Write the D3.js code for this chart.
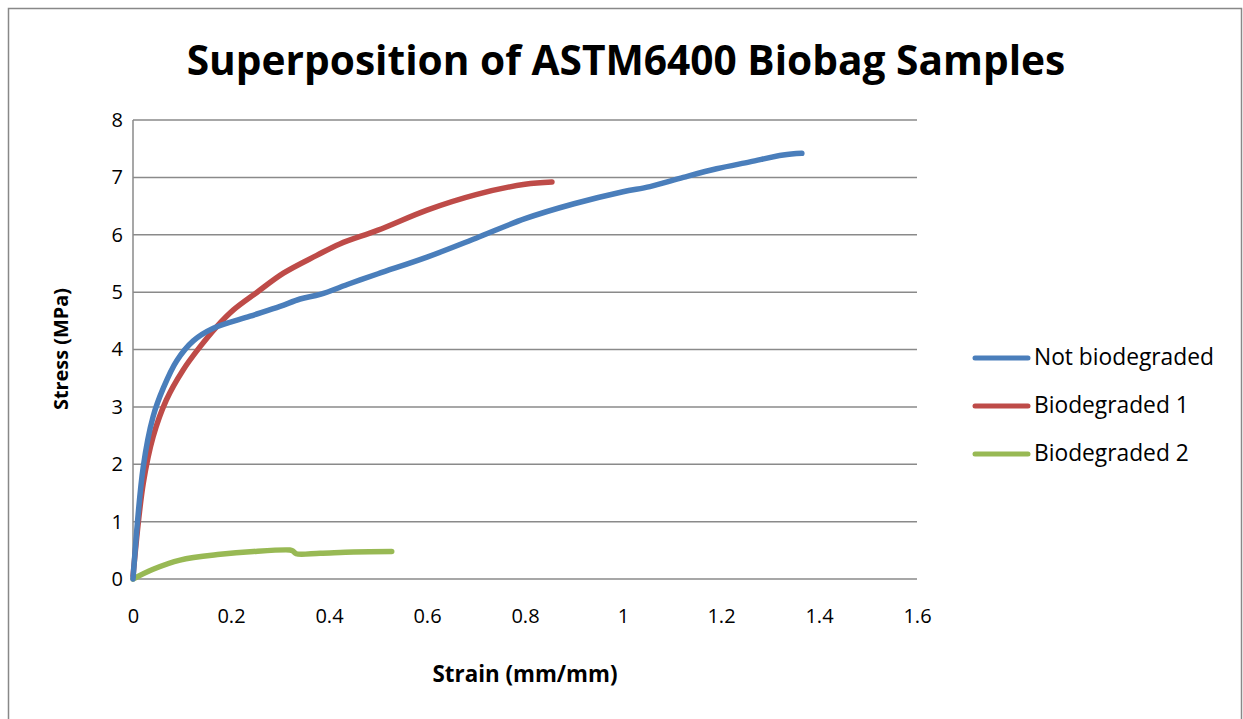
<!DOCTYPE html>
<html><head><meta charset="utf-8">
<script src="https://cdn.jsdelivr.net/npm/d3@7"></script>
<style>body{margin:0;background:#fff}svg{display:block}text{font-family:"Open Sans","Liberation Sans",sans-serif;fill:#000}</style>
</head><body><svg id="c" width="1243" height="719"></svg>
<script>
const seriesNames = ["Not biodegraded", "Biodegraded 1", "Biodegraded 2"];
const seriesColors = ["#4a7ebb", "#be4b48", "#98b954"];
const notBioX = [0, 0.021, 0.041, 0.062, 0.089, 0.123, 0.164, 0.239, 0.3, 0.341, 0.382, 0.443, 0.5, 0.6, 0.7, 0.8, 0.9, 1.0, 1.055, 1.123, 1.191, 1.259, 1.327, 1.365];
const notBioY = [0, 1.96, 2.83, 3.33, 3.8, 4.15, 4.37, 4.58, 4.75, 4.88, 4.96, 5.15, 5.32, 5.61, 5.94, 6.28, 6.54, 6.75, 6.84, 7.0, 7.15, 7.27, 7.39, 7.42];
const bio1X = [0, 0.021, 0.041, 0.068, 0.102, 0.137, 0.171, 0.205, 0.252, 0.307, 0.375, 0.422, 0.5, 0.6, 0.7, 0.8, 0.855];
const bio1Y = [0.05, 1.67, 2.48, 3.12, 3.64, 4.05, 4.4, 4.69, 4.99, 5.33, 5.64, 5.84, 6.08, 6.43, 6.7, 6.88, 6.92];
const bio2X = [0, 0.041, 0.096, 0.178, 0.246, 0.32, 0.326, 0.333, 0.382, 0.45, 0.528];
const bio2Y = [0, 0.17, 0.33, 0.43, 0.48, 0.505, 0.49, 0.44, 0.45, 0.47, 0.48];
const xTicks = [0, 0.2, 0.4, 0.6, 0.8, 1, 1.2, 1.4, 1.6];
const yTicks = [0, 1, 2, 3, 4, 5, 6, 7, 8];
const titleText = "Superposition of ASTM6400 Biobag Samples";
const xTitle = "Strain (mm/mm)";
const yTitle = "Stress (MPa)";

const svg = d3.select("#c");
const x = d3.scaleLinear().domain([0, 1.6]).range([133, 917]);
const y = d3.scaleLinear().domain([0, 8]).range([579, 120]);

function fit(t, w) {
  const cur = t.node().getComputedTextLength();
  const fs = parseFloat(t.attr("font-size"));
  t.attr("font-size", fs * w / cur);
}

svg.append("rect").attr("x", 8.5).attr("y", 8.5).attr("width", 1233).attr("height", 720)
  .attr("fill", "#fff").attr("stroke", "#888").attr("stroke-width", 1.5);

const tt = svg.append("text").attr("x", 626).attr("y", 75).attr("text-anchor", "middle")
  .attr("font-weight", "bold").attr("font-size", 40).text(titleText);
fit(tt, 879);

svg.append("g").selectAll("line").data(yTicks).join("line")
  .attr("x1", x(0)).attr("x2", x(1.6)).attr("y1", d => y(d)).attr("y2", d => y(d))
  .attr("stroke", "#8a8a8a").attr("stroke-width", 1.5);
svg.append("line").attr("x1", x(0)).attr("x2", x(0)).attr("y1", y(0)).attr("y2", y(8))
  .attr("stroke", "#8a8a8a").attr("stroke-width", 1.5);

const yAx = svg.append("g").attr("transform", `translate(${x(0) - 4},0)`)
  .call(d3.axisLeft(y).tickValues(yTicks).tickSize(0).tickPadding(6).tickFormat(d3.format("d")));
yAx.select(".domain").remove();
yAx.selectAll("text").attr("font-size", 20).style("font-family", '"Open Sans","Liberation Sans",sans-serif').attr("fill", "#000");
const xAx = svg.append("g").attr("transform", `translate(0,${y(0) + 30})`)
  .call(d3.axisBottom(x).tickValues(xTicks).tickSize(0).tickPadding(0).tickFormat(d => String(d)));
xAx.select(".domain").remove();
xAx.selectAll("text").attr("font-size", 20).style("font-family", '"Open Sans","Liberation Sans",sans-serif').attr("fill", "#000");

const xt = svg.append("text").attr("x", 525).attr("y", 682).attr("text-anchor", "middle")
  .attr("font-weight", "bold").attr("font-size", 18).text(xTitle);
fit(xt, 185);
const yt = svg.append("text").attr("transform", "translate(68,349) rotate(-90)").attr("text-anchor", "middle")
  .attr("font-weight", "bold").attr("font-size", 18).text(yTitle);
fit(yt, 122);

const line = d3.line().x(d => x(d[0])).y(d => y(d[1])).curve(d3.curveCatmullRom.alpha(0.5));
const series = [
  d3.zip(notBioX, notBioY),
  d3.zip(bio1X, bio1Y),
  d3.zip(bio2X, bio2Y)
];
[2, 1, 0].forEach(i => {
  svg.append("path").datum(series[i]).attr("d", line).attr("fill", "none")
    .attr("stroke", seriesColors[i]).attr("stroke-width", 5.5).attr("stroke-linecap", "round").attr("stroke-linejoin", "round");
});

const lg = svg.append("g");
let legendFs = 20;
seriesNames.forEach((n, i) => {
  const yy = 358 + i * 48;
  lg.append("line").attr("x1", 975).attr("x2", 1028).attr("y1", yy).attr("y2", yy)
    .attr("stroke", seriesColors[i]).attr("stroke-width", 5).attr("stroke-linecap", "round");
  const t = lg.append("text").attr("x", 1034).attr("y", yy + 7).attr("font-size", legendFs).text(n);
  if (i === 0) { fit(t, 180); legendFs = parseFloat(t.attr("font-size")); }
});
</script></body></html>
